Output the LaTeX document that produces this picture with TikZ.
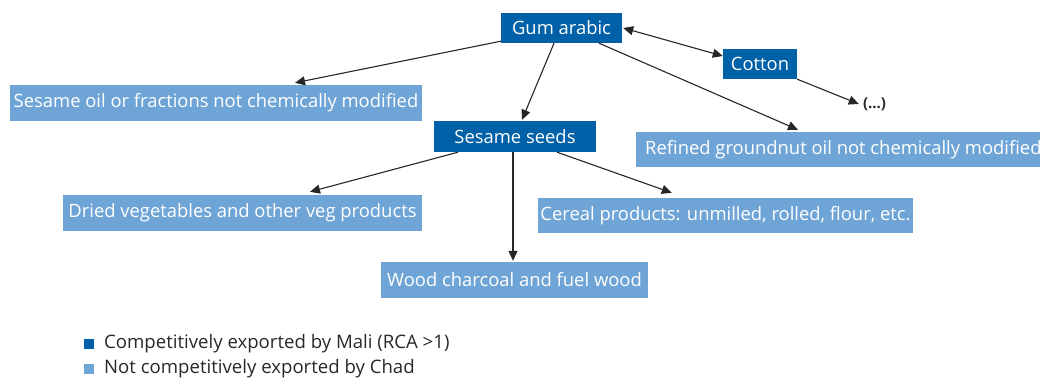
\documentclass[tikz,border=0pt]{standalone}
\usepackage{fontspec}
\setmainfont{Open Sans}
\usetikzlibrary{arrows.meta}
\definecolor{dkblue}{RGB}{0,96,168}
\definecolor{ltblue}{RGB}{111,164,214}
\definecolor{legtxt}{RGB}{40,40,40}
\tikzset{
  box/.style={rectangle, inner sep=0pt, text=white, font=\fontsize{18.4}{21}\selectfont},
  dark/.style={box, fill=dkblue},
  light/.style={box, fill=ltblue},
  arr/.style={line width=1.1pt, draw=black!85, -{Triangle[length=10pt,width=9pt]}},
  leg/.style={anchor=west, inner sep=0pt, text=legtxt, font=\fontsize{18.6}{21}\selectfont},
  legsq/.style={rectangle, inner sep=0pt, minimum size=10pt}
}
\begin{document}
\begin{tikzpicture}[x=1pt,y=-1pt]
\useasboundingbox (0,0) rectangle (1040,379);
\node[dark, minimum width=121pt, minimum height=30pt] (gum) at (561.5,28) {Gum arabic};
\node[dark, minimum width=74pt, minimum height=30pt] (cotton) at (760,64) {Cotton};
\node[dark, minimum width=162pt, minimum height=31pt] (seeds) at (515,136.5) {Sesame seeds};
\node[light, minimum width=412pt, minimum height=36pt] (soil) at (216,103) {Sesame oil or fractions not chemically modified};
\node[light, anchor=west, inner xsep=9pt, minimum height=35pt] (ref) at (636,149.5) {Refined groundnut oil not chemically modified};
\node[light, minimum width=359pt, minimum height=36pt] (dried) at (242.5,213) {Dried vegetables and other veg products};
\node[light, minimum width=375pt, minimum height=35pt] (cereal) at (725.5,215.5) {Cereal products: unmilled, rolled, flour, etc.};
\node[light, minimum width=267pt, minimum height=36pt] (wood) at (514.5,280) {Wood charcoal and fuel wood};
\node[inner sep=0pt, font=\fontsize{15}{18}\selectfont\bfseries, text=legtxt] (dots) at (874.5,104) {(...)};

\draw[arr] ([yshift=2pt]gum.south west) -- ([xshift=79pt,yshift=2pt]soil.north);
\draw[arr] ([xshift=-7.5pt]gum.south) -- ([xshift=7pt,yshift=1pt]seeds.north);
\draw[arr] ([xshift=37.5pt]gum.south) -- ([xshift=162pt,yshift=2pt]ref.north west);
\draw[arr, {Triangle[length=10pt,width=9pt]}-{Triangle[length=10pt,width=9pt]}] ([xshift=1pt]gum.east) -- ([yshift=8pt]cotton.west);
\draw[arr] (cotton.south east) -- ([xshift=-4pt]dots.west);
\draw[arr] ([xshift=-57pt]seeds.south) -- ([xshift=67.5pt,yshift=3pt]dried.north);
\draw[arr] ([xshift=42pt]seeds.south) -- ([xshift=134pt,yshift=5pt]cereal.north west);
\draw[arr] ([xshift=-2pt]seeds.south) -- ([xshift=-1.5pt,yshift=1pt]wood.north);

\node[legsq, fill=dkblue] (sq1) at (89,344) {};
\node[legsq, fill=ltblue] (sq2) at (89,369) {};
\node[leg] (l1) at (104,344) {Competitively exported by Mali (RCA >1)};
\node[leg] (l2) at (104,369) {Not competitively exported by Chad};
\end{tikzpicture}
\end{document}
